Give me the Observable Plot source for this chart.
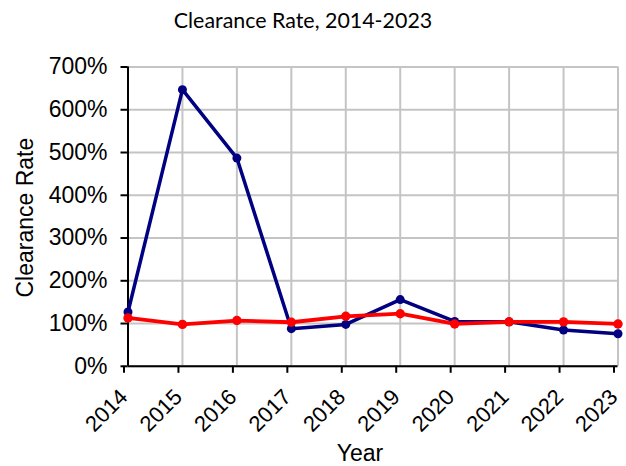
<!DOCTYPE html>
<html>
<head>
<meta charset="utf-8">
<script src="https://cdn.jsdelivr.net/npm/d3@7"></script>
<script src="https://cdn.jsdelivr.net/npm/@observablehq/plot@0.6"></script>
<style>
  html, body { margin: 0; padding: 0; background: #fff; }
  #title { width: 626px; height: 40px; font-family: Lato, "Open Sans", sans-serif; font-size: 21.4px; color: #000; text-align: center; line-height: 40px; white-space: nowrap; }
  #title span { position: relative; left: -10px; }
  #chart svg { display: block; }
</style>
</head>
<body>
<div id="title"><span>Clearance Rate, 2014-2023</span></div>
<div id="chart"></div>
<script>
const years = [2014, 2015, 2016, 2017, 2018, 2019, 2020, 2021, 2022, 2023];
const seriesBlue = [127, 647, 487, 88, 98, 156, 105, 104, 85, 76];
const seriesRed = [113, 98, 107, 103, 117, 123, 99, 104, 104, 99];
const yTicks = [0, 100, 200, 300, 400, 500, 600, 700];
const xLabel = "Year";
const yLabel = "Clearance Rate";

const blueData = years.map((y, i) => ({year: y, value: seriesBlue[i]}));
const redData = years.map((y, i) => ({year: y, value: seriesRed[i]}));

const font = "'Liberation Sans', Arial, sans-serif";

const chart = Plot.plot({
  width: 626,
  height: 426,
  marginTop: 26.5,
  marginBottom: 100.2,
  marginLeft: 127.5,
  marginRight: 8.5,
  style: {fontFamily: font, fontSize: "23px", color: "#000", background: "#fff", overflow: "visible"},
  x: {domain: [2014, 2023], ticks: years},
  y: {domain: [0, 700], ticks: yTicks},
  marks: [
    Plot.gridX(years, {stroke: "#c4c4c4", strokeOpacity: 1, strokeWidth: 2}),
    Plot.gridY(yTicks, {stroke: "#c4c4c4", strokeOpacity: 1, strokeWidth: 2}),
    Plot.axisY(yTicks, {tickFormat: d => d + "%", tickSize: 7, tickPadding: 13.5, label: null, strokeWidth: 2, fontSize: 23}),
    Plot.axisX(years, {tickFormat: d => String(d), tickSize: 7, tickPadding: 20, dx: -4, tickRotate: -45, label: null, strokeWidth: 2, fontSize: 22}),
    Plot.ruleX([2014], {stroke: "#000", strokeWidth: 2}),
    Plot.ruleY([0], {stroke: "#000", strokeWidth: 2}),
    Plot.line(blueData, {x: "year", y: "value", stroke: "#000080", strokeWidth: 3.5}),
    Plot.dot(blueData, {x: "year", y: "value", fill: "#000080", r: 4.5}),
    Plot.line(redData, {x: "year", y: "value", stroke: "#ff0000", strokeWidth: 3.8}),
    Plot.dot(redData, {x: "year", y: "value", fill: "#ff0000", r: 4.7}),
    Plot.text([xLabel], {frameAnchor: "bottom", textAnchor: "middle", lineAnchor: "middle", dx: -13, dy: 87, text: d => d, fontSize: 23}),
    Plot.text([yLabel], {frameAnchor: "left", textAnchor: "middle", lineAnchor: "middle", dx: -102.7, dy: 1, rotate: -90, text: d => d, fontSize: 23})
  ]
});
document.getElementById("chart").appendChild(chart);
</script>
</body>
</html>
